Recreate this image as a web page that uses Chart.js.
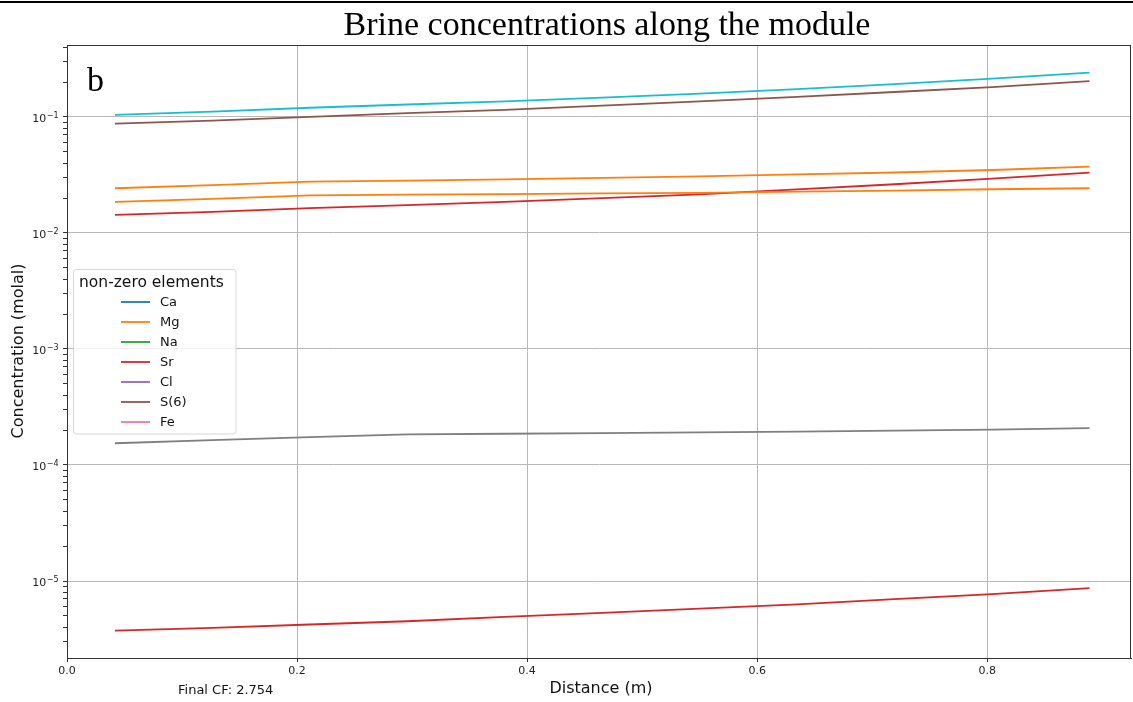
<!DOCTYPE html>
<html>
<head>
<meta charset="utf-8">
<script src="https://cdn.jsdelivr.net/npm/chart.js@4/dist/chart.umd.min.js"></script>
<style>
  html, body { margin: 0; padding: 0; background: #fff; }
  #wrap { width: 1133px; height: 702px; position: relative; }
</style>
</head>
<body>
<div id="wrap"><canvas id="brineChart" width="1133" height="702"></canvas></div>
<script>
// distance along the module (m)
const distances = [0.0417, 0.1264, 0.2111, 0.2958, 0.3806, 0.4653, 0.5500, 0.6347, 0.7194, 0.8042, 0.8889];

// concentrations (molal), one array per plotted line
const cyanSeries   = [0.104, 0.111, 0.120, 0.128, 0.136, 0.147, 0.159, 0.174, 0.192, 0.214, 0.241];
const brownSeries  = [0.0875, 0.093, 0.100, 0.108, 0.115, 0.125, 0.136, 0.149, 0.164, 0.181, 0.204];
const orangeHigh   = [0.0243, 0.0258, 0.0277, 0.0283, 0.0290, 0.0298, 0.0308, 0.0320, 0.0332, 0.0349, 0.0373];
const orangeLow    = [0.0185, 0.0197, 0.0211, 0.0214, 0.0216, 0.0219, 0.0222, 0.0227, 0.0232, 0.0238, 0.0243];
const redHigh      = [0.0143, 0.0152, 0.0164, 0.0174, 0.0185, 0.0200, 0.0215, 0.0238, 0.0263, 0.0294, 0.0331];
const graySeries   = [1.54e-4, 1.64e-4, 1.74e-4, 1.84e-4, 1.86e-4, 1.88e-4, 1.91e-4, 1.94e-4, 1.98e-4, 2.02e-4, 2.08e-4];
const redLow       = [3.73e-6, 3.95e-6, 4.22e-6, 4.5e-6, 4.9e-6, 5.31e-6, 5.77e-6, 6.3e-6, 6.97e-6, 7.71e-6, 8.7e-6];

const lineSeries = [cyanSeries, brownSeries, orangeHigh, orangeLow, redHigh, graySeries, redLow];
const lineColors = ['#17becf', '#8c564b', '#ff7f0e', '#ff7f0e', '#d62728', '#7f7f7f', '#d62728'];

// legend as printed on the figure
const legendNames  = ['Ca', 'Mg', 'Na', 'Sr', 'Cl', 'S(6)', 'Fe'];
const legendColors = ['#1f77b4', '#ff7f0e', '#2ca02c', '#d62728', '#9467bd', '#8c564b', '#e377c2'];

const xTicks = [0.0, 0.2, 0.4, 0.6, 0.8];
const yMajorExps = [-5, -4, -3, -2, -1];

const Y_MIN = 2.17e-6, Y_MAX = 0.417;
const TICK_FONT = { family: 'DejaVu Sans', size: 11 };

function isMajor(v) {
    const e = Math.log10(v);
    return Math.abs(e - Math.round(e)) < 1e-6;
}

// titles, legend, spines, power-of-ten labels
const decorPlugin = {
    id: 'decor',
    afterDraw(chart) {
        const { ctx, chartArea: a } = chart;
        const yScale = chart.scales.y;
        ctx.save();
        // frame
        ctx.strokeStyle = '#333';
        ctx.lineWidth = 1;
        ctx.strokeRect(a.left + 0.5, a.top + 0.5, a.right - a.left - 1, a.bottom - a.top);
        // top rule of the figure
        ctx.fillStyle = '#000';
        ctx.fillRect(0, 1, 1133, 2);

        // y tick labels as 10^n
        ctx.fillStyle = '#222';
        ctx.textBaseline = 'alphabetic';
        yMajorExps.forEach(e => {
            const py = yScale.getPixelForValue(Math.pow(10, e));
            const exp = '\u2212' + String(-e);
            ctx.font = '8px "DejaVu Sans"';
            const ew = ctx.measureText(exp).width;
            ctx.textAlign = 'left';
            ctx.fillText(exp, 58.5 - ew, py + 1);
            ctx.font = '11px "DejaVu Sans"';
            ctx.textAlign = 'right';
            ctx.fillText('10', 58.5 - ew - 0.5, py + 5);
        });

        // title
        ctx.fillStyle = '#000';
        ctx.textAlign = 'center';
        ctx.font = '34px "Liberation Serif"';
        ctx.fillText('Brine concentrations along the module', 607, 35);
        // panel letter
        ctx.textAlign = 'left';
        ctx.font = '34px "Liberation Serif"';
        ctx.fillText('b', 87, 91);

        // axis titles
        ctx.font = '16px "DejaVu Sans"';
        ctx.textAlign = 'center';
        ctx.textBaseline = 'middle';
        ctx.fillStyle = '#111';
        ctx.fillText('Distance (m)', 601, 689);
        ctx.save();
        ctx.translate(19, 351);
        ctx.rotate(-Math.PI / 2);
        ctx.fillText('Concentration (molal)', 0, 0);
        ctx.restore();
        ctx.font = '13px "DejaVu Sans"';
        ctx.textAlign = 'left';
        ctx.fillText('Final CF: 2.754', 178, 691);

        // legend box
        const bx = 73.5, by = 269.5, bw = 162.5, bh = 164.5, r = 3;
        ctx.beginPath();
        ctx.moveTo(bx + r, by);
        ctx.arcTo(bx + bw, by, bx + bw, by + bh, r);
        ctx.arcTo(bx + bw, by + bh, bx, by + bh, r);
        ctx.arcTo(bx, by + bh, bx, by, r);
        ctx.arcTo(bx, by, bx + bw, by, r);
        ctx.closePath();
        ctx.fillStyle = 'rgba(255,255,255,0.8)';
        ctx.fill();
        ctx.strokeStyle = '#d6d6d6';
        ctx.lineWidth = 1;
        ctx.stroke();

        ctx.fillStyle = '#111';
        ctx.font = '15.5px "DejaVu Sans"';
        ctx.textBaseline = 'alphabetic';
        ctx.fillText('non-zero elements', 79, 287);
        ctx.font = '13px "DejaVu Sans"';
        ctx.textBaseline = 'middle';
        legendNames.forEach((name, i) => {
            const y = 302 + i * 20;
            ctx.strokeStyle = legendColors[i];
            ctx.lineWidth = 1.8;
            ctx.beginPath();
            ctx.moveTo(121, y);
            ctx.lineTo(150, y);
            ctx.stroke();
            ctx.fillStyle = '#111';
            ctx.fillText(name, 160, y + 1);
        });
        ctx.restore();
    }
};

const datasets = lineSeries.map((vals, i) => ({
    label: 'line' + i,
    data: vals.map((v, j) => ({ x: distances[j], y: v })),
    borderColor: lineColors[i],
    borderWidth: 1.8,
    pointRadius: 0,
    fill: false,
    tension: 0
}));

new Chart(document.getElementById('brineChart').getContext('2d'), {
    type: 'line',
    data: { datasets },
    options: {
        responsive: false,
        animation: false,
        layout: { padding: { left: 0, right: 2, top: 45, bottom: 0 } },
        plugins: { legend: { display: false }, tooltip: { enabled: false } },
        scales: {
            x: {
                type: 'linear',
                min: 0,
                max: 0.925,
                afterBuildTicks: (scale) => { scale.ticks = xTicks.map(v => ({ value: v })); },
                afterFit: (scale) => { scale.height = 44; },
                ticks: {
                    font: TICK_FONT, color: '#222', padding: 3, maxRotation: 0,
                    callback: (v) => Number(v).toFixed(1)
                },
                grid: { color: '#b8b8b8', lineWidth: 1, tickColor: '#333', tickLength: 4 },
                border: { color: '#333', width: 1 }
            },
            y: {
                type: 'logarithmic',
                min: Y_MIN,
                max: Y_MAX,
                afterBuildTicks: (scale) => {
                    const t = [];
                    for (let e = -6; e <= 0; e++) {
                        for (let m = 1; m <= 9; m++) {
                            const v = m * Math.pow(10, e);
                            if (v >= Y_MIN && v <= Y_MAX) t.push({ value: v });
                        }
                    }
                    scale.ticks = t;
                },
                afterFit: (scale) => { scale.width = 67; },
                ticks: { display: true, autoSkip: false, callback: () => '' },
                grid: {
                    color: (c) => (c.tick && isMajor(c.tick.value)) ? '#b8b8b8' : 'rgba(0,0,0,0)',
                    tickColor: '#333',
                    tickLength: 4,
                    lineWidth: 1
                },
                border: { color: '#333', width: 1 }
            }
        }
    },
    plugins: [decorPlugin]
});
</script>
</body>
</html>
